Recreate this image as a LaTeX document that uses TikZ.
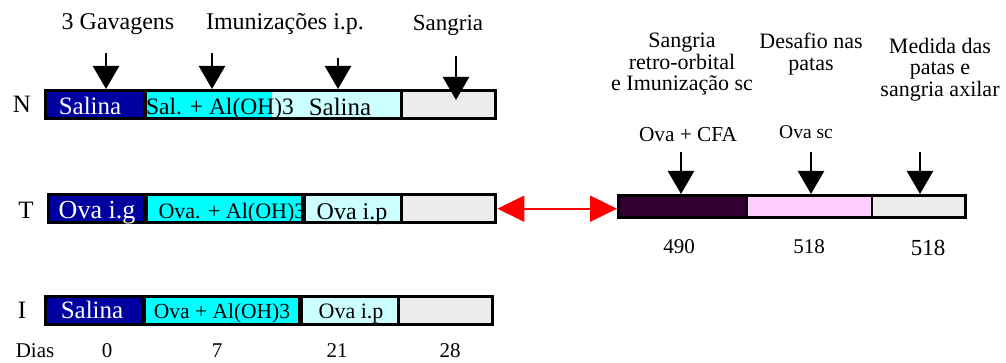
\documentclass[tikz,border=0pt]{standalone}
\usepackage{fontspec}
\setmainfont{Liberation Serif}
\usetikzlibrary{arrows.meta}
\definecolor{dblue}{RGB}{0,0,160}
\definecolor{cyanA}{RGB}{0,255,255}
\definecolor{lcyan}{RGB}{204,255,255}
\definecolor{lgray}{RGB}{236,236,236}
\definecolor{dpurple}{RGB}{51,0,51}
\definecolor{lpink}{RGB}{255,204,255}
\newcommand{\fs}[1]{\fontsize{#1}{#1}\selectfont}
\begin{document}
\begin{tikzpicture}[x=1pt,y=-1pt,
  frame/.style={fill=black,inner sep=0,anchor=north west},
  seg/.style={inner sep=0,anchor=north west},
  lbl/.style={inner sep=0,anchor=base,font=\fs{24}},
  blbl/.style={inner sep=0,anchor=base,font=\fs{22}},
  mlbl/.style={inner sep=0,anchor=north,align=center,font=\fontsize{22}{21.5}\selectfont},
  slbl/.style={inner sep=0,anchor=base,font=\fs{21}},
  dn/.style={line width=2.5pt,-{Triangle[width=26pt,length=23pt]}},
  dbl/.style={red,line width=2pt,{Triangle[width=26pt,length=27pt]}-{Triangle[width=26pt,length=27pt]}}
]
\useasboundingbox (0,0) rectangle (1006,363);

% ---------- Row N ----------
\node[frame,minimum width=453,minimum height=31] (Nf) at (44,89) {};
\node[seg,fill=dblue,minimum width=96,minimum height=25] (Nb) at (47,92) {};
\node[seg,fill=cyanA,minimum width=125,minimum height=25] (Nc) at (147,92) {};
\node[seg,fill=lcyan,minimum width=128,minimum height=25] (Nl) at (272,92) {};
\node[seg,fill=lgray,minimum width=91,minimum height=25] (Ng) at (403,92) {};
\node[blbl,white,font=\fs{25}] (NbT) at (90,115) {Salina};
\node[blbl,font=\fs{23.5}] (NcT) at (220,115) {Sal. + Al(OH)3};
\node[blbl,font=\fs{25}] (NlT) at (340,116) {Salina};
\node[lbl,font=\fs{25}] (NL) at (22,113) {N};

% ---------- Row T ----------
\node[frame,minimum width=450,minimum height=31] (Tf) at (47,193) {};
\node[seg,fill=dblue,minimum width=93,minimum height=25] (Tb) at (50,196) {};
\node[seg,fill=cyanA,minimum width=153,minimum height=25] (Tc) at (148,196) {};
\node[seg,fill=lcyan,minimum width=94,minimum height=25] (Tl) at (306,196) {};
\node[seg,fill=lgray,minimum width=91,minimum height=25] (Tg) at (403,196) {};
\node[blbl,white,font=\fs{26}] (TbT) at (97,219) {Ova i.g};
\node[blbl] (TcT) at (232,219) {Ova. + Al(OH)3};
\node[blbl,font=\fs{24}] (TlT) at (352,220) {Ova i.p};
\node[lbl,font=\fs{25}] (TL) at (26,219) {T};

% ---------- Row I ----------
\node[frame,minimum width=450,minimum height=31] (If) at (44,295) {};
\node[seg,fill=dblue,minimum width=94,minimum height=25] (Ib) at (47,298) {};
\node[seg,fill=cyanA,minimum width=152,minimum height=25] (Ic) at (146,298) {};
\node[seg,fill=lcyan,minimum width=94,minimum height=25] (Il) at (303,298) {};
\node[seg,fill=lgray,minimum width=91,minimum height=25] (Ig) at (400,298) {};
\node[blbl,white,font=\fs{25}] (IbT) at (92,318) {Salina};
\node[blbl,font=\fs{21.5}] (IcT) at (222,318) {Ova + Al(OH)3};
\node[blbl] (IlT) at (351,318) {Ova i.p};
\node[lbl,font=\fs{25}] (IL) at (22,318) {I};

% ---------- Days ----------
\node[slbl] (dias) at (35,357) {Dias};
\node[slbl] (d0) at (107,357) {0};
\node[slbl] (d7) at (217,357) {7};
\node[slbl] (d21) at (337,357) {21};
\node[slbl] (d28) at (450,357) {28};

% ---------- Top labels ----------
\node[lbl] (g1) at (118,30) {3 Gavagens};
\node[lbl] (g2) at (285,30) {Imunizações i.p.};
\node[lbl,font=\fs{23}] (g3) at (448,31) {Sangria};

% ---------- Down arrows row N ----------
\coordinate (n1) at (106,53);
\coordinate (n2) at (212,53);
\coordinate (n3) at (338,58);
\coordinate (n4) at (456,56);
\coordinate (n4e) at (456,100);
\draw[dn] (n1) -- (n1 |- Nf.north);
\draw[dn] (n2) -- (n2 |- Nf.north);
\draw[dn] (n3) -- (n3 |- Nf.north);
\draw[dn] (n4) -- (n4e);

% ---------- Right block ----------
\node[frame,minimum width=350,minimum height=25] (Rf) at (617,194) {};
\node[seg,fill=dpurple,minimum width=125,minimum height=19] (Rp) at (620,197) {};
\node[seg,fill=lpink,minimum width=123,minimum height=19] (Rk) at (748,197) {};
\node[seg,fill=lgray,minimum width=91,minimum height=19] (Rg) at (873,197) {};

\node[mlbl] (h1) at (682,33) {Sangria\\retro-orbital\\e Imunização sc};
\node[mlbl] (h2) at (811,33) {Desafio nas\\patas};
\node[mlbl] (h3) at (940,38) {Medida das\\patas e\\sangria axilar};

\node[lbl,font=\fs{21.3}] (o1) at (688,142) {Ova + CFA};
\node[slbl,font=\fs{19.5}] (o2) at (806,139) {Ova sc};

\node[slbl] (r1) at (679,254) {490};
\node[slbl] (r2) at (809,254) {518};
\node[slbl,font=\fs{23}] (r3) at (928,256) {518};

\coordinate (m1) at (681,152);
\coordinate (m2) at (811,152);
\coordinate (m3) at (920,152);
\draw[dn] (m1) -- (m1 |- Rf.north);
\draw[dn] (m2) -- (m2 |- Rf.north);
\draw[dn] (m3) -- (m3 |- Rf.north);

% ---------- Red double arrow ----------
\draw[dbl] (Tf.east) -- (Tf.east -| Rf.west);
\end{tikzpicture}
\end{document}
